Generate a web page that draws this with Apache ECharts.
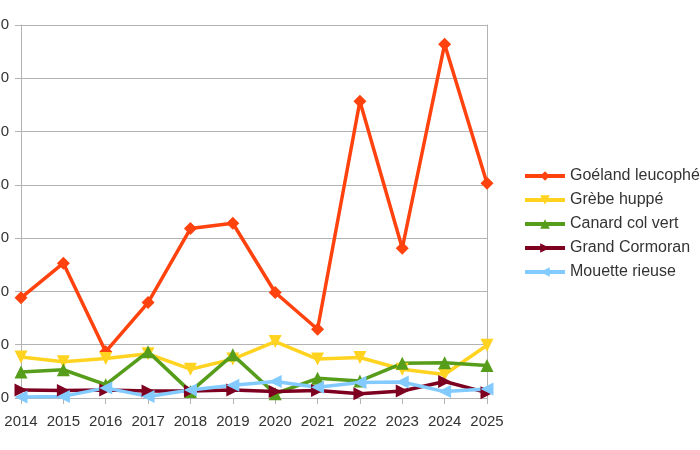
<!DOCTYPE html>
<html>
<head>
<meta charset="utf-8">
<script src="https://cdn.jsdelivr.net/npm/echarts@6/dist/echarts.min.js"></script>
<style>html,body{margin:0;padding:0;background:#fff;}#c{width:700px;height:450px;}</style>
</head>
<body>
<div id="c"></div>
<script>
var years = ['2014','2015','2016','2017','2018','2019','2020','2021','2022','2023','2024','2025'];
var goeland = [18.8, 25.3, 8.7, 17.9, 31.8, 32.8, 19.8, 12.9, 55.7, 28.1, 66.4, 40.3];
var grebe = [7.7, 6.8, 7.4, 8.3, 5.4, 7.3, 10.6, 7.3, 7.6, 5.4, 4.4, 9.9];
var canard = [4.9, 5.3, 2.5, 8.7, 1.2, 8.1, 0.8, 3.7, 3.2, 6.5, 6.6, 6.1];
var cormoran = [1.5, 1.4, 1.5, 1.3, 1.3, 1.5, 1.2, 1.4, 0.8, 1.3, 3.1, 1.0];
var mouette = [0.2, 0.3, 1.9, 0.3, 1.5, 2.4, 3.1, 2.0, 2.9, 3.0, 1.2, 1.7];
var yTicks = [0, 10, 20, 30, 40, 50, 60, 70];

var chart = echarts.init(document.getElementById('c'), null, {renderer: 'canvas'});
function s(name, data, color, symbol, rot, size) {
  return {
    name: name, type: 'line', data: data, symbol: symbol, symbolSize: size, symbolRotate: rot,
    lineStyle: {color: color, width: 3.5}, itemStyle: {color: color},
    showAllSymbol: true, animation: false
  };
}
chart.setOption({
  animation: false,
  textStyle: {fontFamily: 'Liberation Sans'},
  grid: {left: 21, right: 213, top: 25, bottom: 52, containLabel: false, outerBoundsMode: 'none'},
  legend: {
    orient: 'vertical', left: 518, top: 163, itemWidth: 40, itemHeight: 12, itemGap: 8,
    textStyle: {fontSize: 16, color: '#333', fontFamily: 'Liberation Sans'},
    lineStyle: {width: 4}
  },
  xAxis: {
    type: 'category', data: years, boundaryGap: false,
    axisLine: {lineStyle: {color: '#b3b3b3', width: 1}},
    axisTick: {show: true, length: 6, alignWithLabel: true, lineStyle: {color: '#b3b3b3'}},
    axisLabel: {fontSize: 15, color: '#333', margin: 16, interval: 0}
  },
  yAxis: [{
    type: 'value', min: yTicks[0], max: yTicks[yTicks.length-1], interval: 10,
    axisLine: {show: true, lineStyle: {color: '#b3b3b3'}},
    axisTick: {show: true, length: 6, lineStyle: {color: '#b3b3b3'}},
    splitLine: {show: true, lineStyle: {color: '#b3b3b3'}},
    axisLabel: {fontSize: 15, color: '#333', margin: 12}
  }, {
    type: 'value', position: 'right', min: yTicks[0], max: yTicks[yTicks.length-1], interval: 10,
    axisLine: {show: true, lineStyle: {color: '#b3b3b3'}},
    axisTick: {show: false}, splitLine: {show: false}, axisLabel: {show: false}
  }],
  series: [
    s('Goéland leucophée', goeland, '#ff420e', 'diamond', 0, 13),
    s('Grèbe huppé', grebe, '#ffd320', 'triangle', 180, 13),
    s('Canard col vert', canard, '#579d1c', 'triangle', 0, 13),
    s('Grand Cormoran', cormoran, '#7e0021', 'triangle', -90, 13),
    s('Mouette rieuse', mouette, '#83caff', 'triangle', 90, 13)
  ]
});
</script>
</body>
</html>
